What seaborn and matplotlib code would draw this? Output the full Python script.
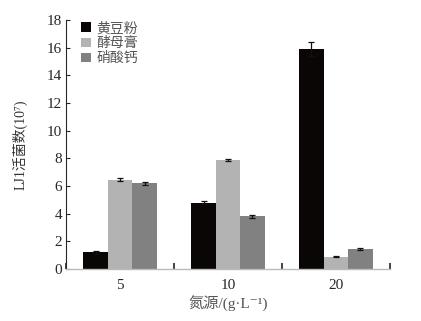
import matplotlib
matplotlib.use("Agg")
import matplotlib.pyplot as plt
import seaborn as sns
import pandas as pd
import numpy as np

categories = ["5", "10", "20"]
series = ["黄豆粉", "酵母膏", "硝酸钙"]
soy = [1.2, 4.8, 15.9]
yeast = [6.45, 7.9, 0.9]
calcium = [6.2, 3.8, 1.45]
soy_err = [0.1, 0.12, 0.5]
yeast_err = [0.12, 0.08, 0.05]
calcium_err = [0.1, 0.08, 0.06]
colors = ["#0b0606", "#b3b3b3", "#818181"]

sns.set_style("ticks")
plt.rcParams["font.family"] = ["Liberation Serif", "Noto Sans CJK SC", "DejaVu Serif"]

rows = []
for name, vals, errs in zip(series, [soy, yeast, calcium], [soy_err, yeast_err, calcium_err]):
    for c, v, e in zip(categories, vals, errs):
        rows.append({"cat": c, "series": name, "value": v, "err": e})
df = pd.DataFrame(rows)

fig = plt.figure(figsize=(4.21, 3.21), dpi=100)
ax = fig.add_axes([0.157, 0.162, 0.769, 0.776])
sns.barplot(data=df, x="cat", y="value", hue="series", palette=colors,
            width=0.68, errorbar=None, ax=ax, saturation=1, linewidth=0)

for cont, name in zip(ax.containers, series):
    sub = df[df["series"] == name]
    xs = [p.get_x() + p.get_width() / 2 for p in cont]
    hs = [p.get_height() for p in cont]
    ax.errorbar(xs, hs, yerr=sub["err"].values, fmt="none", ecolor="#111111",
                elinewidth=0.9, capsize=2.5, capthick=0.9)

ax.set_ylim(0, 18)
ax.set_xlim(-0.5, 2.5)
ax.set_yticks(np.arange(0, 19, 2))
ax.tick_params(axis="y", direction="in", length=3, width=0.8, labelsize=11, pad=3)
ax.set_xticks([-0.5, 0.5, 1.5, 2.5])
ax.set_xticklabels([])
ax.set_xticks([0, 1, 2], minor=True)
ax.set_xticklabels(categories, minor=True)
ax.tick_params(axis="x", which="major", direction="in", length=4, width=1.2, color="#222222")
ax.tick_params(axis="x", which="minor", length=0, labelsize=11, pad=7)

for s in ["top", "right"]:
    ax.spines[s].set_visible(False)
ax.spines["left"].set_linewidth(0.8)
ax.spines["bottom"].set_color("#bbbbbb")
ax.spines["bottom"].set_linewidth(1.0)

ax.set_xlabel("氮源/(g·L⁻¹)", fontsize=11, color="#555555", labelpad=3)
ax.set_ylabel("LJ1活菌数(10⁷)", fontsize=10, color="#333333", labelpad=14)

leg = ax.legend(loc="upper left", bbox_to_anchor=(0.03, 1.015), frameon=False,
                fontsize=10, handlelength=0.7, handleheight=0.7, handletextpad=0.4,
                labelspacing=0.15, borderaxespad=0)
for t in leg.get_texts():
    t.set_color("#555555")

fig.savefig("out.png", dpi=100)
